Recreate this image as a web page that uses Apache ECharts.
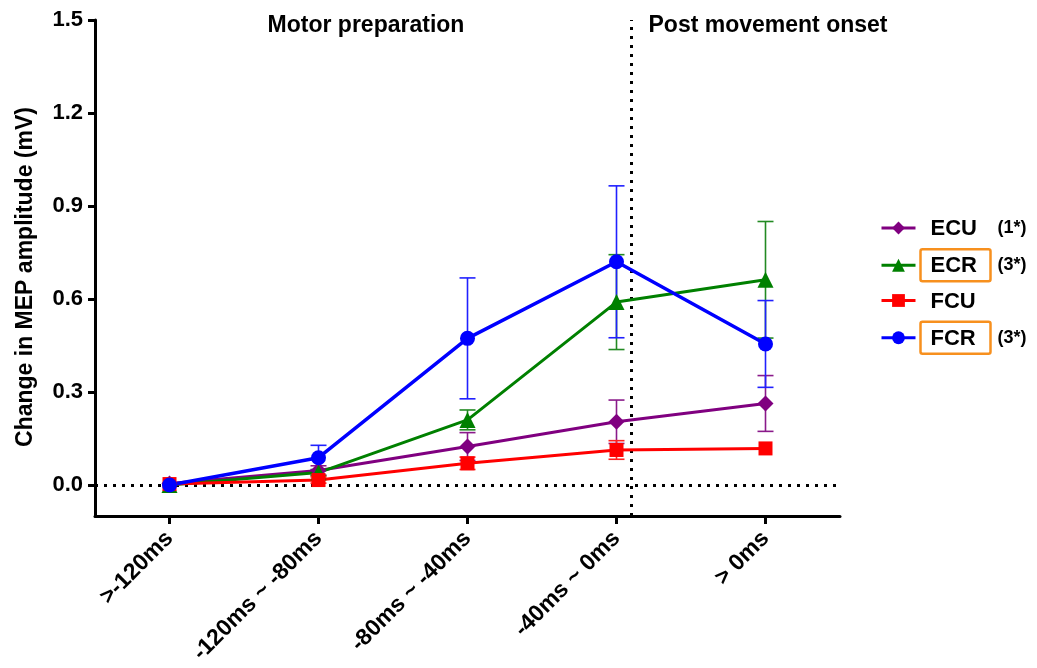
<!DOCTYPE html>
<html>
<head>
<meta charset="utf-8">
<script src="https://cdn.jsdelivr.net/npm/echarts@6/dist/echarts.min.js"></script>
<style>
  html, body { margin: 0; padding: 0; background: #fff; }
  #chart { width: 1037px; height: 668px; }
</style>
</head>
<body>
<div id="chart"></div>
<script>
var categories = ['>-120ms', '-120ms ~ -80ms', '-80ms ~ -40ms', '-40ms ~ 0ms', '> 0ms'];
var yTicks = [0, 0.3, 0.6, 0.9, 1.2, 1.5];

var ecu    = [0.005, 0.047, 0.124, 0.204, 0.263];
var ecuErr = [0, 0.015, 0.045, 0.07, 0.09];
var ecr    = [0.0, 0.04, 0.21, 0.59, 0.662];
var ecrErr = [0, 0.01, 0.032, 0.153, 0.188];
var fcu    = [0.003, 0.016, 0.07, 0.113, 0.118];
var fcuErr = [0, 0.01, 0.02, 0.03, 0];
var fcr    = [0.0, 0.088, 0.473, 0.72, 0.455];
var fcrErr = [0, 0.04, 0.195, 0.245, 0.14];

var seriesNames = ['ECU', 'ECR', 'FCU', 'FCR'];
var legendNotes = ['(1*)', '(3*)', '', '(3*)'];
var boxedNames = ['ECR', 'FCR'];
var phaseSplit = 3.1;   // onset line, in category units
var phaseLabels = ['Motor preparation', 'Post movement onset'];

var font = '"Liberation Sans", Arial, sans-serif';

var pairs = function (vals) {
    return vals.map(function (v, i) { return [i, v]; });
};

var lineSeries = function (name, vals, color, symbol, size, width) {
    return {
        name: name,
        type: 'line',
        data: pairs(vals),
        symbol: symbol,
        symbolSize: size,
        itemStyle: { color: color },
        lineStyle: { color: color, width: width },
        z: 5,
        animation: false
    };
};

var errSeries = function (vals, errs, color) {
    return {
        type: 'custom',
        data: vals.map(function (v, i) { return [i, v - errs[i], v + errs[i], errs[i]]; }),
        encode: { x: 0, y: [1, 2] },
        silent: true,
        z: 3,
        animation: false,
        renderItem: function (params, api) {
            if (api.value(3) <= 0) return null;
            var x = api.value(0);
            var lo = api.coord([x, api.value(1)]);
            var hi = api.coord([x, api.value(2)]);
            var hw = 8;
            var st = { stroke: color, lineWidth: 1.6 };
            return {
                type: 'group',
                children: [
                    { type: 'line', shape: { x1: lo[0], y1: lo[1], x2: hi[0], y2: hi[1] }, style: st },
                    { type: 'line', shape: { x1: lo[0] - hw, y1: lo[1], x2: lo[0] + hw, y2: lo[1] }, style: st },
                    { type: 'line', shape: { x1: hi[0] - hw, y1: hi[1], x2: hi[0] + hw, y2: hi[1] }, style: st }
                ]
            };
        }
    };
};

var myChart = echarts.init(document.getElementById('chart'));

var option = {
    backgroundColor: '#fff',
    animation: false,
    textStyle: { fontFamily: font },
    grid: { left: 95, top: 20, width: 745, height: 496, containLabel: false },
    xAxis: {
        type: 'value',
        min: -0.5,
        max: 4.5,
        splitLine: { show: false },
        axisLine: { onZero: false, lineStyle: { color: '#000', width: 3 } },
        axisTick: { customValues: [0, 1, 2, 3, 4], length: 8, lineStyle: { color: '#000', width: 3 } },
        axisLabel: {
            customValues: [0, 1, 2, 3, 4],
            formatter: function (v) { return categories[Math.round(v)]; },
            rotate: 45,
            margin: 19,
            color: '#000',
            fontSize: 23,
            fontWeight: 'bold',
            fontFamily: font
        }
    },
    yAxis: {
        type: 'value',
        min: -0.1,
        max: 1.5,
        name: 'Change in MEP amplitude (mV)',
        nameLocation: 'middle',
        nameGap: 58,
        nameTextStyle: { color: '#000', fontSize: 23, fontWeight: 'bold', fontFamily: font, padding: [0, 18, 0, 0] },
        splitLine: { show: false },
        axisLine: { onZero: false, lineStyle: { color: '#000', width: 3 } },
        axisTick: { customValues: yTicks, length: 7, lineStyle: { color: '#000', width: 3 } },
        axisLabel: {
            customValues: yTicks,
            formatter: function (v) { return v.toFixed(1); },
            margin: 12,
            color: '#000',
            fontSize: 22,
            fontWeight: 'bold',
            fontFamily: font
        }
    },
    legend: {
        data: seriesNames,
        orient: 'vertical',
        left: 875,
        top: 213,
        itemWidth: 34,
        itemHeight: 16,
        itemGap: 8,
        lineStyle: { width: 3 },
        formatter: function (name) {
            var i = seriesNames.indexOf(name);
            var key = boxedNames.indexOf(name) >= 0 ? 'box' : 'plain';
            var s = '{' + key + '|' + name + '}';
            if (legendNotes[i]) s += '{note|' + legendNotes[i] + '}';
            return s;
        },
        textStyle: {
            rich: {
                plain: { fontSize: 22, fontWeight: 'bold', color: '#000', width: 50, height: 26, padding: [4, 10, 2, 10], verticalAlign: 'middle', fontFamily: font },
                box: { fontSize: 22, fontWeight: 'bold', color: '#000', width: 50, height: 26, padding: [4, 10, 2, 10], verticalAlign: 'middle', borderColor: '#f7901e', borderWidth: 2.5, borderRadius: 2, fontFamily: font },
                note: { fontSize: 18, fontWeight: 'bold', color: '#000', padding: [0, 0, 0, 7], verticalAlign: 'middle', fontFamily: font }
            }
        }
    },
    graphic: [
        { type: 'text', x: 366, y: 26, style: { text: phaseLabels[0], fill: '#000', font: 'bold 23px ' + font, align: 'center', verticalAlign: 'middle' } },
        { type: 'text', x: 768, y: 26, style: { text: phaseLabels[1], fill: '#000', font: 'bold 23px ' + font, align: 'center', verticalAlign: 'middle' } }
    ],
    series: [
        {
            type: 'line',
            data: [],
            silent: true,
            markLine: {
                silent: true,
                symbol: 'none',
                label: { show: false },
                lineStyle: { color: '#000', width: 3, type: [3, 6] },
                data: [{ yAxis: 0 }, { xAxis: phaseSplit }]
            }
        },
        errSeries(ecu, ecuErr, '#8a1a8a'),
        errSeries(ecr, ecrErr, '#238a23'),
        errSeries(fcu, fcuErr, '#ff2020'),
        errSeries(fcr, fcrErr, '#2020ff'),
        lineSeries('ECU', ecu, '#800080', 'diamond', 16, 3),
        lineSeries('ECR', ecr, '#008000', 'triangle', 16, 3),
        lineSeries('FCU', fcu, '#ff0000', 'rect', 14, 3),
        lineSeries('FCR', fcr, '#0000ff', 'circle', 15, 3.5)
    ]
};
myChart.setOption(option);
</script>
</body>
</html>
